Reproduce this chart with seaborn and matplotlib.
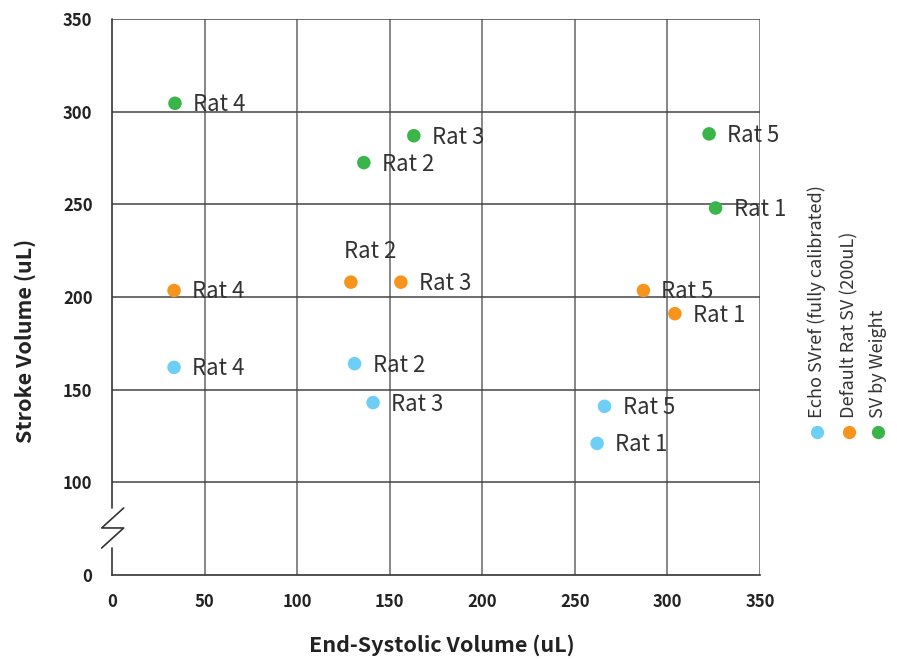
"""Stroke volume vs end-systolic volume scatter, three SV estimation methods."""

import matplotlib
matplotlib.use("Agg")
import matplotlib.pyplot as plt
import pandas as pd
import seaborn as sns

# --- data ---
rats = ["Rat 1", "Rat 2", "Rat 3", "Rat 4", "Rat 5"]
echo_esv = [262, 131, 141, 33.5, 266]
echo_sv = [121, 164, 143, 162, 141]
default_esv = [304, 129, 156, 33.5, 287]
default_sv = [191, 208, 208, 203.5, 203.5]
weight_esv = [326, 136, 163, 34, 322.5]
weight_sv = [248, 272.5, 287, 304.5, 288]

methods = ["Echo SVref (fully calibrated)", "Default Rat SV (200uL)", "SV by Weight"]
colors = ["#6DCFF6", "#F7941D", "#39B54A"]

x_ticks = [0, 50, 100, 150, 200, 250, 300, 350]
y_ticks = [100, 150, 200, 250, 300, 350]
y_floor = 50  # the broken-axis bottom shown as "0"

sns.set_theme(style="white")
plt.rcParams["font.family"] = ["Noto Sans CJK SC", "DejaVu Sans"]

frames = []
for name, xs, ys in [
    (methods[0], echo_esv, echo_sv),
    (methods[1], default_esv, default_sv),
    (methods[2], weight_esv, weight_sv),
]:
    frames.append(pd.DataFrame({"esv": xs, "sv": ys, "rat": rats, "method": name}))
df = pd.concat(frames, ignore_index=True)

fig = plt.figure(figsize=(8.97, 6.59), dpi=100)
ax = fig.add_axes([0.1249, 0.1275, 0.7224, 0.8437])

sns.scatterplot(
    data=df, x="esv", y="sv", hue="method", hue_order=methods,
    palette=colors, s=95, linewidth=0, legend=False, ax=ax, zorder=3,
)

# point labels; the default-SV Rat 2 label sits above its marker
for _, row in df.iterrows():
    if row["method"] == methods[1] and row["rat"] == "Rat 2":
        offset, ha, va = (14, 14), "center", "bottom"
    else:
        offset, ha, va = (13, -1), "left", "center"
    ax.annotate(row["rat"], (row["esv"], row["sv"]), xytext=offset,
                textcoords="offset points", ha=ha, va=va,
                fontsize=16, color="#333333", zorder=4)

ax.set_xlim(0, 350)
ax.set_ylim(y_floor, 350)
ax.set_xticks(x_ticks)
ax.set_xticklabels([str(v) for v in x_ticks], fontweight="bold")
ax.set_yticks([y_floor] + y_ticks)
ax.set_yticklabels(["0"] + [str(v) for v in y_ticks], fontweight="bold")
ax.tick_params(axis="both", length=0, labelsize=12, labelcolor="#222222")
ax.tick_params(axis="x", pad=13)
ax.tick_params(axis="y", pad=14)

# grid: vertical lines full height, horizontal lines from 100 up
for xv in x_ticks[1:]:
    ax.axvline(xv, color="#666666", lw=1.1, zorder=1)
for yv in y_ticks:
    ax.axhline(yv, color="#444444", lw=1.1, zorder=1)

for side in ["top", "right", "left"]:
    ax.spines[side].set_visible(False)
ax.spines["bottom"].set_color("#333333")
ax.spines["bottom"].set_linewidth(1.2)

# left spine with a gap and a zigzag break mark between 0 and 100
brk_lo, brk_hi = 0.0486, 0.1205
ax.plot([0, 0], [0, brk_lo], transform=ax.transAxes, color="#333333",
        lw=1.2, clip_on=False, zorder=2)
ax.plot([0, 0], [brk_hi, 1], transform=ax.transAxes, color="#333333",
        lw=1.2, clip_on=False, zorder=2)
mid = (brk_lo + brk_hi) / 2
ax.plot([-0.016, 0.018, -0.016, 0.018], [brk_lo, mid, mid, brk_hi],
        transform=ax.transAxes, color="#333333", lw=1.2, clip_on=False)

ax.set_xlabel("End-Systolic Volume (uL)", fontsize=15.5, fontweight="bold",
              color="#222222", labelpad=17)
ax.xaxis.label.set_x(0.509)
ax.set_ylabel("Stroke Volume (uL)", fontsize=15.5, fontweight="bold",
              color="#222222")
ax.yaxis.set_label_coords(-0.117, 0.421)

# vertical legend on the right: rotated labels above coloured dots
legend_x = [0.9105, 0.9465, 0.979]
for lx, name, col in zip(legend_x, methods, colors):
    fig.text(lx, 0.365, name, rotation=90, ha="center", va="bottom",
             fontsize=13, color="#333333")
    fig.add_artist(plt.Line2D([lx], [0.344], marker="o", markersize=8.5,
                              color=col, linestyle="none",
                              transform=fig.transFigure))

fig.savefig("out.png", dpi=100)
